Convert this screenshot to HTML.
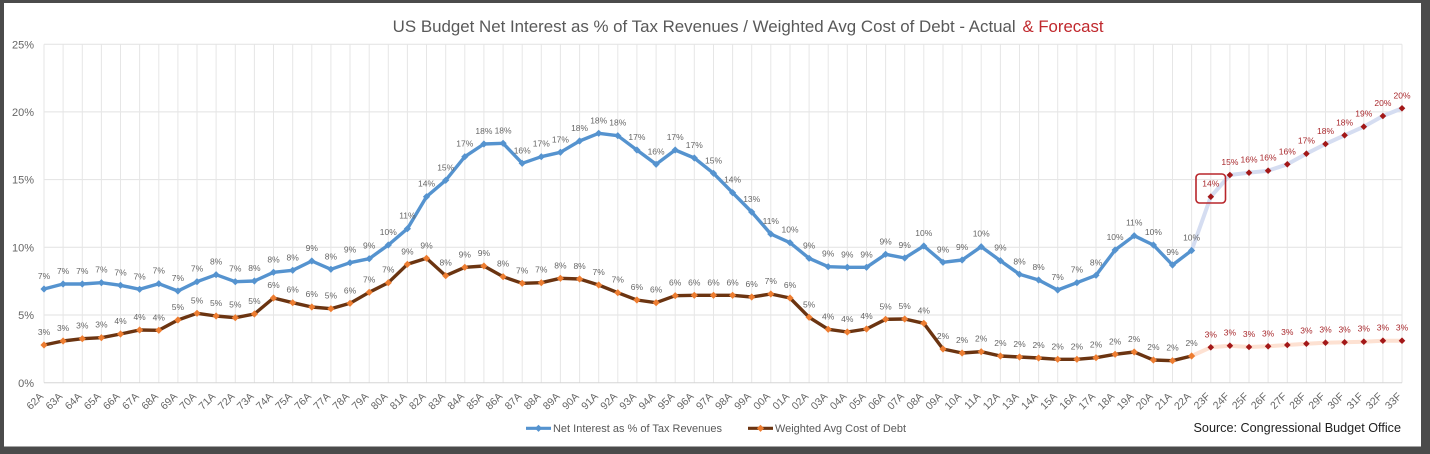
<!DOCTYPE html>
<html><head><meta charset="utf-8"><style>
html,body{margin:0;padding:0;background:#4b4b4b;}
svg{display:block;}
text{font-family:"Liberation Sans",Arial,sans-serif;}
.yl{font-size:11px;fill:#666;text-anchor:end;}
.xl{font-size:10.5px;fill:#666;text-anchor:end;}
.bl{font-size:8.5px;fill:#666;text-anchor:middle;}
.fl{font-size:8.5px;fill:#a8282c;text-anchor:middle;}
</style></head><body>
<svg width="1430" height="454" viewBox="0 0 1430 454" xmlns="http://www.w3.org/2000/svg">
<defs>
<marker id="mb" viewBox="-5 -5 10 10" markerWidth="10" markerHeight="10" markerUnits="userSpaceOnUse" refX="0" refY="0"><path d="M0,-3.6L3.6,0L0,3.6L-3.6,0Z" fill="#5593cf"/></marker>
<marker id="mo" viewBox="-5 -5 10 10" markerWidth="10" markerHeight="10" markerUnits="userSpaceOnUse" refX="0" refY="0"><path d="M0,-3.6L3.6,0L0,3.6L-3.6,0Z" fill="#ed7d31"/></marker>
<marker id="mr" viewBox="-5 -5 10 10" markerWidth="10" markerHeight="10" markerUnits="userSpaceOnUse" refX="0" refY="0"><path d="M0,-3.3L3.3,0L0,3.3L-3.3,0Z" fill="#a31818"/></marker>
</defs>
<rect x="0" y="0" width="1430" height="454" fill="#4b4b4b"/>
<rect x="4" y="3" width="1417" height="443.5" fill="#ffffff"/>

<!-- title -->
<text x="392.7" y="32" font-size="16.7" fill="#595959" textLength="623" lengthAdjust="spacingAndGlyphs">US Budget Net Interest as % of Tax Revenues / Weighted Avg Cost of Debt - Actual</text>
<text x="1022.5" y="32" font-size="16.7" fill="#c0282d" textLength="81" lengthAdjust="spacingAndGlyphs">&amp; Forecast</text>

<!-- horizontal gridlines -->
<g stroke="#e2e2e2" stroke-width="1">
<line x1="44" y1="44.2" x2="1402" y2="44.2"/>
<line x1="44" y1="111.9" x2="1402" y2="111.9"/>
<line x1="44" y1="179.6" x2="1402" y2="179.6"/>
<line x1="44" y1="247.3" x2="1402" y2="247.3"/>
<line x1="44" y1="315.0" x2="1402" y2="315.0"/>
</g>
<!-- vertical gridlines -->
<g stroke="#e6e6e6" stroke-width="1">
<line x1="44.0" y1="44.2" x2="44.0" y2="382.7"/><line x1="63.1" y1="44.2" x2="63.1" y2="382.7"/><line x1="82.3" y1="44.2" x2="82.3" y2="382.7"/><line x1="101.4" y1="44.2" x2="101.4" y2="382.7"/><line x1="120.5" y1="44.2" x2="120.5" y2="382.7"/><line x1="139.6" y1="44.2" x2="139.6" y2="382.7"/><line x1="158.8" y1="44.2" x2="158.8" y2="382.7"/><line x1="177.9" y1="44.2" x2="177.9" y2="382.7"/><line x1="197.0" y1="44.2" x2="197.0" y2="382.7"/><line x1="216.1" y1="44.2" x2="216.1" y2="382.7"/>
<line x1="235.3" y1="44.2" x2="235.3" y2="382.7"/><line x1="254.4" y1="44.2" x2="254.4" y2="382.7"/><line x1="273.5" y1="44.2" x2="273.5" y2="382.7"/><line x1="292.7" y1="44.2" x2="292.7" y2="382.7"/><line x1="311.8" y1="44.2" x2="311.8" y2="382.7"/><line x1="330.9" y1="44.2" x2="330.9" y2="382.7"/><line x1="350.0" y1="44.2" x2="350.0" y2="382.7"/><line x1="369.2" y1="44.2" x2="369.2" y2="382.7"/><line x1="388.3" y1="44.2" x2="388.3" y2="382.7"/><line x1="407.4" y1="44.2" x2="407.4" y2="382.7"/>
<line x1="426.5" y1="44.2" x2="426.5" y2="382.7"/><line x1="445.7" y1="44.2" x2="445.7" y2="382.7"/><line x1="464.8" y1="44.2" x2="464.8" y2="382.7"/><line x1="483.9" y1="44.2" x2="483.9" y2="382.7"/><line x1="503.1" y1="44.2" x2="503.1" y2="382.7"/><line x1="522.2" y1="44.2" x2="522.2" y2="382.7"/><line x1="541.3" y1="44.2" x2="541.3" y2="382.7"/><line x1="560.4" y1="44.2" x2="560.4" y2="382.7"/><line x1="579.6" y1="44.2" x2="579.6" y2="382.7"/><line x1="598.7" y1="44.2" x2="598.7" y2="382.7"/>
<line x1="617.8" y1="44.2" x2="617.8" y2="382.7"/><line x1="636.9" y1="44.2" x2="636.9" y2="382.7"/><line x1="656.1" y1="44.2" x2="656.1" y2="382.7"/><line x1="675.2" y1="44.2" x2="675.2" y2="382.7"/><line x1="694.3" y1="44.2" x2="694.3" y2="382.7"/><line x1="713.5" y1="44.2" x2="713.5" y2="382.7"/><line x1="732.6" y1="44.2" x2="732.6" y2="382.7"/><line x1="751.7" y1="44.2" x2="751.7" y2="382.7"/><line x1="770.8" y1="44.2" x2="770.8" y2="382.7"/><line x1="790.0" y1="44.2" x2="790.0" y2="382.7"/>
<line x1="809.1" y1="44.2" x2="809.1" y2="382.7"/><line x1="828.2" y1="44.2" x2="828.2" y2="382.7"/><line x1="847.3" y1="44.2" x2="847.3" y2="382.7"/><line x1="866.5" y1="44.2" x2="866.5" y2="382.7"/><line x1="885.6" y1="44.2" x2="885.6" y2="382.7"/><line x1="904.7" y1="44.2" x2="904.7" y2="382.7"/><line x1="923.8" y1="44.2" x2="923.8" y2="382.7"/><line x1="943.0" y1="44.2" x2="943.0" y2="382.7"/><line x1="962.1" y1="44.2" x2="962.1" y2="382.7"/><line x1="981.2" y1="44.2" x2="981.2" y2="382.7"/>
<line x1="1000.4" y1="44.2" x2="1000.4" y2="382.7"/><line x1="1019.5" y1="44.2" x2="1019.5" y2="382.7"/><line x1="1038.6" y1="44.2" x2="1038.6" y2="382.7"/><line x1="1057.7" y1="44.2" x2="1057.7" y2="382.7"/><line x1="1076.9" y1="44.2" x2="1076.9" y2="382.7"/><line x1="1096.0" y1="44.2" x2="1096.0" y2="382.7"/><line x1="1115.1" y1="44.2" x2="1115.1" y2="382.7"/><line x1="1134.2" y1="44.2" x2="1134.2" y2="382.7"/><line x1="1153.4" y1="44.2" x2="1153.4" y2="382.7"/><line x1="1172.5" y1="44.2" x2="1172.5" y2="382.7"/>
<line x1="1191.6" y1="44.2" x2="1191.6" y2="382.7"/><line x1="1210.8" y1="44.2" x2="1210.8" y2="382.7"/><line x1="1229.9" y1="44.2" x2="1229.9" y2="382.7"/><line x1="1249.0" y1="44.2" x2="1249.0" y2="382.7"/><line x1="1268.1" y1="44.2" x2="1268.1" y2="382.7"/><line x1="1287.3" y1="44.2" x2="1287.3" y2="382.7"/><line x1="1306.4" y1="44.2" x2="1306.4" y2="382.7"/><line x1="1325.5" y1="44.2" x2="1325.5" y2="382.7"/><line x1="1344.6" y1="44.2" x2="1344.6" y2="382.7"/><line x1="1363.8" y1="44.2" x2="1363.8" y2="382.7"/>
<line x1="1382.9" y1="44.2" x2="1382.9" y2="382.7"/><line x1="1402.0" y1="44.2" x2="1402.0" y2="382.7"/>
</g>
<line x1="44" y1="382.7" x2="1402" y2="382.7" stroke="#d6d6d6" stroke-width="1"/>

<!-- y-axis labels -->
<text class="yl" x="34" y="48.3">25%</text>
<text class="yl" x="34" y="116">20%</text>
<text class="yl" x="34" y="183.7">15%</text>
<text class="yl" x="34" y="251.4">10%</text>
<text class="yl" x="34" y="319.1">5%</text>
<text class="yl" x="34" y="386.8">0%</text>

<!-- forecast lines -->
<polyline fill="none" stroke="#d5ddf1" stroke-width="4" stroke-linejoin="round" stroke-linecap="round" marker-mid="url(#mr)" marker-end="url(#mr)"
points="1191.6,250.5 1210.8,196.7 1229.9,175.0 1249.0,172.7 1268.1,170.7 1287.3,164.3 1306.4,153.7 1325.5,144.0 1344.6,135.3 1363.8,126.7 1382.9,116.0 1402.0,108.3"/>
<polyline fill="none" stroke="#fde1d2" stroke-width="4" stroke-linejoin="round" stroke-linecap="round" marker-mid="url(#mr)" marker-end="url(#mr)"
points="1191.6,356.0 1210.8,347.3 1229.9,345.7 1249.0,347.0 1268.1,346.3 1287.3,345.0 1306.4,343.7 1325.5,342.7 1344.6,342.3 1363.8,341.7 1382.9,340.7 1402.0,340.7"/>

<!-- actual lines -->
<polyline fill="none" stroke="#5593cf" stroke-width="3.4" stroke-linejoin="round" stroke-linecap="round" marker-start="url(#mb)" marker-mid="url(#mb)" marker-end="url(#mb)"
points="44.0,289.0 63.1,284.0 82.3,284.0 101.4,282.7 120.5,285.3 139.6,289.3 158.8,283.7 177.9,291.0 197.0,281.7 216.1,274.7 235.3,281.7 254.4,281.0 273.5,272.3 292.7,270.3 311.8,261.0 330.9,269.3 350.0,262.7 369.2,258.7 388.3,245.0 407.4,228.7 426.5,196.7 445.7,180.3 464.8,156.7 483.9,144.0 503.1,143.3 522.2,163.3 541.3,156.7 560.4,152.3 579.6,141.0 598.7,133.3 617.8,135.7 636.9,150.0 656.1,164.3 675.2,150.0 694.3,158.0 713.5,173.3 732.6,192.7 751.7,212.0 770.8,234.0 790.0,242.7 809.1,258.3 828.2,266.7 847.3,267.3 866.5,267.3 885.6,254.3 904.7,258.0 923.8,246.0 943.0,262.3 962.1,260.0 981.2,246.7 1000.4,260.7 1019.5,274.3 1038.6,280.0 1057.7,290.0 1076.9,282.7 1096.0,275.3 1115.1,250.0 1134.2,235.7 1153.4,245.0 1172.5,265.0 1191.6,250.5"/>
<polyline fill="none" stroke="#6b3411" stroke-width="3.4" stroke-linejoin="round" stroke-linecap="round" marker-start="url(#mo)" marker-mid="url(#mo)" marker-end="url(#mo)"
points="44.0,345.0 63.1,341.0 82.3,338.7 101.4,337.7 120.5,334.0 139.6,330.0 158.8,330.3 177.9,320.0 197.0,313.3 216.1,316.0 235.3,317.7 254.4,314.0 273.5,298.0 292.7,302.7 311.8,307.0 330.9,308.7 350.0,303.3 369.2,292.3 388.3,282.7 407.4,264.3 426.5,258.3 445.7,275.7 464.8,267.3 483.9,266.0 503.1,276.7 522.2,283.3 541.3,282.7 560.4,278.3 579.6,279.0 598.7,285.0 617.8,292.7 636.9,300.0 656.1,302.7 675.2,295.7 694.3,295.3 713.5,295.3 732.6,295.3 751.7,297.0 770.8,294.0 790.0,298.0 809.1,317.3 828.2,329.3 847.3,332.0 866.5,329.0 885.6,319.3 904.7,319.0 923.8,323.3 943.0,349.0 962.1,353.0 981.2,351.7 1000.4,356.0 1019.5,357.0 1038.6,358.0 1057.7,359.3 1076.9,359.3 1096.0,357.7 1115.1,354.3 1134.2,352.0 1153.4,360.0 1172.5,360.7 1191.6,356.0"/>

<!-- blue data labels -->
<text class="bl" x="44.0" y="279.0">7%</text><text class="bl" x="63.1" y="274.0">7%</text><text class="bl" x="82.3" y="274.0">7%</text><text class="bl" x="101.4" y="272.7">7%</text><text class="bl" x="120.5" y="275.3">7%</text><text class="bl" x="139.6" y="279.3">7%</text><text class="bl" x="158.8" y="273.7">7%</text><text class="bl" x="177.9" y="281.0">7%</text><text class="bl" x="197.0" y="271.7">7%</text><text class="bl" x="216.1" y="264.7">8%</text>
<text class="bl" x="235.3" y="271.7">7%</text><text class="bl" x="254.4" y="271.0">8%</text><text class="bl" x="273.5" y="262.3">8%</text><text class="bl" x="292.7" y="260.3">8%</text><text class="bl" x="311.8" y="251.0">9%</text><text class="bl" x="330.9" y="259.3">8%</text><text class="bl" x="350.0" y="252.7">9%</text><text class="bl" x="369.2" y="248.7">9%</text><text class="bl" x="388.3" y="235.0">10%</text><text class="bl" x="407.4" y="218.7">11%</text>
<text class="bl" x="426.5" y="186.7">14%</text><text class="bl" x="445.7" y="170.3">15%</text><text class="bl" x="464.8" y="146.7">17%</text><text class="bl" x="483.9" y="134.0">18%</text><text class="bl" x="503.1" y="133.3">18%</text><text class="bl" x="522.2" y="153.3">16%</text><text class="bl" x="541.3" y="146.7">17%</text><text class="bl" x="560.4" y="142.3">17%</text><text class="bl" x="579.6" y="131.0">18%</text><text class="bl" x="598.7" y="123.3">18%</text>
<text class="bl" x="617.8" y="125.7">18%</text><text class="bl" x="636.9" y="140.0">17%</text><text class="bl" x="656.1" y="154.3">16%</text><text class="bl" x="675.2" y="140.0">17%</text><text class="bl" x="694.3" y="148.0">17%</text><text class="bl" x="713.5" y="163.3">15%</text><text class="bl" x="732.6" y="182.7">14%</text><text class="bl" x="751.7" y="202.0">13%</text><text class="bl" x="770.8" y="224.0">11%</text><text class="bl" x="790.0" y="232.7">10%</text>
<text class="bl" x="809.1" y="248.3">9%</text><text class="bl" x="828.2" y="256.7">9%</text><text class="bl" x="847.3" y="257.3">9%</text><text class="bl" x="866.5" y="257.3">9%</text><text class="bl" x="885.6" y="244.3">9%</text><text class="bl" x="904.7" y="248.0">9%</text><text class="bl" x="923.8" y="236.0">10%</text><text class="bl" x="943.0" y="252.3">9%</text><text class="bl" x="962.1" y="250.0">9%</text><text class="bl" x="981.2" y="236.7">10%</text>
<text class="bl" x="1000.4" y="250.7">9%</text><text class="bl" x="1019.5" y="264.3">8%</text><text class="bl" x="1038.6" y="270.0">8%</text><text class="bl" x="1057.7" y="280.0">7%</text><text class="bl" x="1076.9" y="272.7">7%</text><text class="bl" x="1096.0" y="265.3">8%</text><text class="bl" x="1115.1" y="240.0">10%</text><text class="bl" x="1134.2" y="225.7">11%</text><text class="bl" x="1153.4" y="235.0">10%</text><text class="bl" x="1172.5" y="255.0">9%</text>
<text class="bl" x="1191.6" y="240.5">10%</text>

<!-- blue forecast labels -->
<text class="fl" x="1210.8" y="186.7">14%</text><text class="fl" x="1229.9" y="165.0">15%</text><text class="fl" x="1249.0" y="162.7">16%</text><text class="fl" x="1268.1" y="160.7">16%</text><text class="fl" x="1287.3" y="154.3">16%</text><text class="fl" x="1306.4" y="143.7">17%</text><text class="fl" x="1325.5" y="134.0">18%</text><text class="fl" x="1344.6" y="125.3">18%</text><text class="fl" x="1363.8" y="116.7">19%</text><text class="fl" x="1382.9" y="106.0">20%</text><text class="fl" x="1402.0" y="98.3">20%</text>

<!-- brown data labels -->
<text class="bl" x="44.0" y="335.0">3%</text><text class="bl" x="63.1" y="331.0">3%</text><text class="bl" x="82.3" y="328.7">3%</text><text class="bl" x="101.4" y="327.7">3%</text><text class="bl" x="120.5" y="324.0">4%</text><text class="bl" x="139.6" y="320.0">4%</text><text class="bl" x="158.8" y="320.3">4%</text><text class="bl" x="177.9" y="310.0">5%</text><text class="bl" x="197.0" y="303.3">5%</text><text class="bl" x="216.1" y="306.0">5%</text>
<text class="bl" x="235.3" y="307.7">5%</text><text class="bl" x="254.4" y="304.0">5%</text><text class="bl" x="273.5" y="288.0">6%</text><text class="bl" x="292.7" y="292.7">6%</text><text class="bl" x="311.8" y="297.0">6%</text><text class="bl" x="330.9" y="298.7">5%</text><text class="bl" x="350.0" y="293.3">6%</text><text class="bl" x="369.2" y="282.3">7%</text><text class="bl" x="388.3" y="272.7">7%</text><text class="bl" x="407.4" y="254.3">9%</text>
<text class="bl" x="426.5" y="248.3">9%</text><text class="bl" x="445.7" y="265.7">8%</text><text class="bl" x="464.8" y="257.3">9%</text><text class="bl" x="483.9" y="256.0">9%</text><text class="bl" x="503.1" y="266.7">8%</text><text class="bl" x="522.2" y="273.3">7%</text><text class="bl" x="541.3" y="272.7">7%</text><text class="bl" x="560.4" y="268.3">8%</text><text class="bl" x="579.6" y="269.0">8%</text><text class="bl" x="598.7" y="275.0">7%</text>
<text class="bl" x="617.8" y="282.7">7%</text><text class="bl" x="636.9" y="290.0">6%</text><text class="bl" x="656.1" y="292.7">6%</text><text class="bl" x="675.2" y="285.7">6%</text><text class="bl" x="694.3" y="285.3">6%</text><text class="bl" x="713.5" y="285.3">6%</text><text class="bl" x="732.6" y="285.3">6%</text><text class="bl" x="751.7" y="287.0">6%</text><text class="bl" x="770.8" y="284.0">7%</text><text class="bl" x="790.0" y="288.0">6%</text>
<text class="bl" x="809.1" y="307.3">5%</text><text class="bl" x="828.2" y="319.3">4%</text><text class="bl" x="847.3" y="322.0">4%</text><text class="bl" x="866.5" y="319.0">4%</text><text class="bl" x="885.6" y="309.3">5%</text><text class="bl" x="904.7" y="309.0">5%</text><text class="bl" x="923.8" y="313.3">4%</text><text class="bl" x="943.0" y="339.0">2%</text><text class="bl" x="962.1" y="343.0">2%</text><text class="bl" x="981.2" y="341.7">2%</text>
<text class="bl" x="1000.4" y="346.0">2%</text><text class="bl" x="1019.5" y="347.0">2%</text><text class="bl" x="1038.6" y="348.0">2%</text><text class="bl" x="1057.7" y="349.3">2%</text><text class="bl" x="1076.9" y="349.3">2%</text><text class="bl" x="1096.0" y="347.7">2%</text><text class="bl" x="1115.1" y="344.3">2%</text><text class="bl" x="1134.2" y="342.0">2%</text><text class="bl" x="1153.4" y="350.0">2%</text><text class="bl" x="1172.5" y="350.7">2%</text>
<text class="bl" x="1191.6" y="346.0">2%</text>

<!-- brown forecast labels -->
<text class="fl" x="1210.8" y="337.3">3%</text><text class="fl" x="1229.9" y="335.7">3%</text><text class="fl" x="1249.0" y="337.0">3%</text><text class="fl" x="1268.1" y="336.3">3%</text><text class="fl" x="1287.3" y="335.0">3%</text><text class="fl" x="1306.4" y="333.7">3%</text><text class="fl" x="1325.5" y="332.7">3%</text><text class="fl" x="1344.6" y="332.3">3%</text><text class="fl" x="1363.8" y="331.7">3%</text><text class="fl" x="1382.9" y="330.7">3%</text><text class="fl" x="1402.0" y="330.7">3%</text>

<!-- highlight box -->
<rect x="1196" y="174" width="29.5" height="29" rx="3.5" ry="3.5" fill="none" stroke="#b8262b" stroke-width="1.6"/>

<!-- x-axis labels -->
<g class="xlg">
<text class="xl" transform="translate(44.0,397) rotate(-45)">62A</text><text class="xl" transform="translate(63.1,397) rotate(-45)">63A</text><text class="xl" transform="translate(82.3,397) rotate(-45)">64A</text><text class="xl" transform="translate(101.4,397) rotate(-45)">65A</text><text class="xl" transform="translate(120.5,397) rotate(-45)">66A</text><text class="xl" transform="translate(139.6,397) rotate(-45)">67A</text><text class="xl" transform="translate(158.8,397) rotate(-45)">68A</text><text class="xl" transform="translate(177.9,397) rotate(-45)">69A</text><text class="xl" transform="translate(197.0,397) rotate(-45)">70A</text><text class="xl" transform="translate(216.1,397) rotate(-45)">71A</text>
<text class="xl" transform="translate(235.3,397) rotate(-45)">72A</text><text class="xl" transform="translate(254.4,397) rotate(-45)">73A</text><text class="xl" transform="translate(273.5,397) rotate(-45)">74A</text><text class="xl" transform="translate(292.7,397) rotate(-45)">75A</text><text class="xl" transform="translate(311.8,397) rotate(-45)">76A</text><text class="xl" transform="translate(330.9,397) rotate(-45)">77A</text><text class="xl" transform="translate(350.0,397) rotate(-45)">78A</text><text class="xl" transform="translate(369.2,397) rotate(-45)">79A</text><text class="xl" transform="translate(388.3,397) rotate(-45)">80A</text><text class="xl" transform="translate(407.4,397) rotate(-45)">81A</text>
<text class="xl" transform="translate(426.5,397) rotate(-45)">82A</text><text class="xl" transform="translate(445.7,397) rotate(-45)">83A</text><text class="xl" transform="translate(464.8,397) rotate(-45)">84A</text><text class="xl" transform="translate(483.9,397) rotate(-45)">85A</text><text class="xl" transform="translate(503.1,397) rotate(-45)">86A</text><text class="xl" transform="translate(522.2,397) rotate(-45)">87A</text><text class="xl" transform="translate(541.3,397) rotate(-45)">88A</text><text class="xl" transform="translate(560.4,397) rotate(-45)">89A</text><text class="xl" transform="translate(579.6,397) rotate(-45)">90A</text><text class="xl" transform="translate(598.7,397) rotate(-45)">91A</text>
<text class="xl" transform="translate(617.8,397) rotate(-45)">92A</text><text class="xl" transform="translate(636.9,397) rotate(-45)">93A</text><text class="xl" transform="translate(656.1,397) rotate(-45)">94A</text><text class="xl" transform="translate(675.2,397) rotate(-45)">95A</text><text class="xl" transform="translate(694.3,397) rotate(-45)">96A</text><text class="xl" transform="translate(713.5,397) rotate(-45)">97A</text><text class="xl" transform="translate(732.6,397) rotate(-45)">98A</text><text class="xl" transform="translate(751.7,397) rotate(-45)">99A</text><text class="xl" transform="translate(770.8,397) rotate(-45)">00A</text><text class="xl" transform="translate(790.0,397) rotate(-45)">01A</text>
<text class="xl" transform="translate(809.1,397) rotate(-45)">02A</text><text class="xl" transform="translate(828.2,397) rotate(-45)">03A</text><text class="xl" transform="translate(847.3,397) rotate(-45)">04A</text><text class="xl" transform="translate(866.5,397) rotate(-45)">05A</text><text class="xl" transform="translate(885.6,397) rotate(-45)">06A</text><text class="xl" transform="translate(904.7,397) rotate(-45)">07A</text><text class="xl" transform="translate(923.8,397) rotate(-45)">08A</text><text class="xl" transform="translate(943.0,397) rotate(-45)">09A</text><text class="xl" transform="translate(962.1,397) rotate(-45)">10A</text><text class="xl" transform="translate(981.2,397) rotate(-45)">11A</text>
<text class="xl" transform="translate(1000.4,397) rotate(-45)">12A</text><text class="xl" transform="translate(1019.5,397) rotate(-45)">13A</text><text class="xl" transform="translate(1038.6,397) rotate(-45)">14A</text><text class="xl" transform="translate(1057.7,397) rotate(-45)">15A</text><text class="xl" transform="translate(1076.9,397) rotate(-45)">16A</text><text class="xl" transform="translate(1096.0,397) rotate(-45)">17A</text><text class="xl" transform="translate(1115.1,397) rotate(-45)">18A</text><text class="xl" transform="translate(1134.2,397) rotate(-45)">19A</text><text class="xl" transform="translate(1153.4,397) rotate(-45)">20A</text><text class="xl" transform="translate(1172.5,397) rotate(-45)">21A</text>
<text class="xl" transform="translate(1191.6,397) rotate(-45)">22A</text><text class="xl" transform="translate(1210.8,397) rotate(-45)">23F</text><text class="xl" transform="translate(1229.9,397) rotate(-45)">24F</text><text class="xl" transform="translate(1249.0,397) rotate(-45)">25F</text><text class="xl" transform="translate(1268.1,397) rotate(-45)">26F</text><text class="xl" transform="translate(1287.3,397) rotate(-45)">27F</text><text class="xl" transform="translate(1306.4,397) rotate(-45)">28F</text><text class="xl" transform="translate(1325.5,397) rotate(-45)">29F</text><text class="xl" transform="translate(1344.6,397) rotate(-45)">30F</text><text class="xl" transform="translate(1363.8,397) rotate(-45)">31F</text>
<text class="xl" transform="translate(1382.9,397) rotate(-45)">32F</text><text class="xl" transform="translate(1402.0,397) rotate(-45)">33F</text>
</g>

<!-- legend -->
<line x1="526" y1="428.3" x2="551" y2="428.3" stroke="#5593cf" stroke-width="3.2"/>
<path d="M538.5,424.7L542.1,428.3L538.5,431.9L534.9,428.3Z" fill="#5593cf"/>
<text x="553" y="432.2" font-size="11" fill="#595959" textLength="169" lengthAdjust="spacingAndGlyphs">Net Interest as % of Tax Revenues</text>
<line x1="748" y1="428.3" x2="773" y2="428.3" stroke="#6b3411" stroke-width="3.2"/>
<path d="M760.5,424.7L764.1,428.3L760.5,431.9L756.9,428.3Z" fill="#ed7d31"/>
<text x="775" y="432.2" font-size="11" fill="#595959" textLength="131" lengthAdjust="spacingAndGlyphs">Weighted Avg Cost of Debt</text>

<!-- source -->
<text x="1193.5" y="432" font-size="12.6" fill="#1e1e1e" textLength="207.5" lengthAdjust="spacingAndGlyphs">Source: Congressional Budget Office</text>
</svg>
</body></html>
